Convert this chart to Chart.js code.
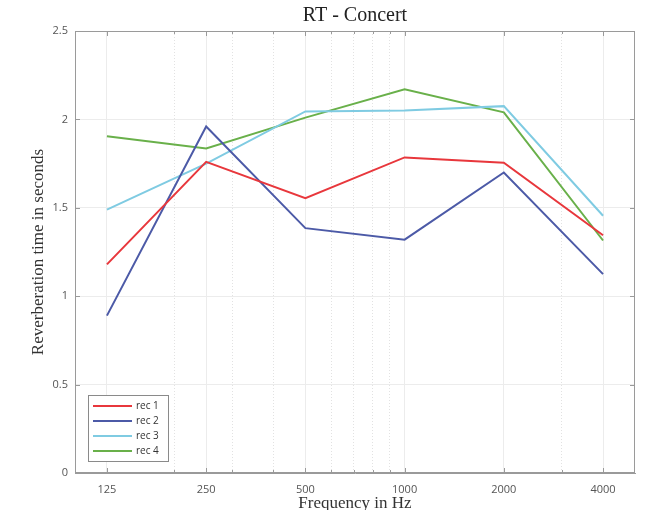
<!DOCTYPE html>
<html>
<head>
<meta charset="utf-8">
<script src="https://cdn.jsdelivr.net/npm/chart.js@4.4.0/dist/chart.umd.min.js"></script>
<style>
html, body { margin: 0; padding: 0; background: #fff; }
</style>
</head>
<body>
<canvas id="rtChart" width="651" height="510"></canvas>
<script>
// --- data ---
const frequencies = [125, 250, 500, 1000, 2000, 4000];
const minorFrequencies = [200, 300, 400, 600, 700, 800, 900, 3000];
const yTicks = [0, 0.5, 1, 1.5, 2, 2.5];
const seriesNames = ['rec 1', 'rec 2', 'rec 3', 'rec 4'];
const rec1 = [1.18, 1.76, 1.555, 1.785, 1.755, 1.345];
const rec2 = [0.89, 1.96, 1.385, 1.32, 1.70, 1.125];
const rec3 = [1.49, 1.75, 2.045, 2.05, 2.075, 1.455];
const rec4 = [1.905, 1.835, 2.01, 2.17, 2.04, 1.315];
const lineColors = ['#e8373c', '#4c5aa7', '#7fcbe2', '#69b04a'];

const serifFont = "'Liberation Serif', 'DejaVu Serif', serif";
const sansFont = "'Open Sans', 'Noto Sans', sans-serif";

const toPoints = vals => vals.map((v, i) => ({ x: frequencies[i], y: v }));

// box, inside ticks and the legend like the MATLAB figure
const framePlugin = {
    id: 'frame',
    afterDraw(chart) {
        const { ctx, chartArea: a } = chart;
        const xs = chart.scales.x;
        const ys = chart.scales.y;
        ctx.save();
        ctx.strokeStyle = '#9a9a9a';
        ctx.lineWidth = 1;
        ctx.strokeRect(a.left + 0.5, a.top + 0.5, a.right - a.left - 1, a.bottom - a.top - 1);

        ctx.beginPath();
        frequencies.forEach(v => {
            const px = Math.round(xs.getPixelForValue(v)) + 0.5;
            ctx.moveTo(px, a.bottom); ctx.lineTo(px, a.bottom - 5);
            ctx.moveTo(px, a.top); ctx.lineTo(px, a.top + 5);
        });
        minorFrequencies.forEach(v => {
            const px = Math.round(xs.getPixelForValue(v)) + 0.5;
            ctx.moveTo(px, a.bottom); ctx.lineTo(px, a.bottom - 3);
            ctx.moveTo(px, a.top); ctx.lineTo(px, a.top + 3);
        });
        yTicks.forEach(v => {
            const py = Math.round(ys.getPixelForValue(v)) + 0.5;
            ctx.moveTo(a.left, py); ctx.lineTo(a.left + 5, py);
            ctx.moveTo(a.right, py); ctx.lineTo(a.right - 5, py);
        });
        ctx.stroke();

        // legend box, lower left
        const bx = a.left + 13, by = a.bottom - 78, bw = 80, bh = 66;
        ctx.fillStyle = '#fff';
        ctx.fillRect(bx, by, bw, bh);
        ctx.strokeStyle = '#8a8a8a';
        ctx.strokeRect(bx + 0.5, by + 0.5, bw, bh);
        ctx.font = '10px ' + sansFont;
        ctx.textBaseline = 'middle';
        chart.data.datasets.forEach((ds, i) => {
            const ry = by + 11 + i * 15;
            ctx.strokeStyle = ds.borderColor;
            ctx.lineWidth = 2;
            ctx.beginPath();
            ctx.moveTo(bx + 5, ry); ctx.lineTo(bx + 44, ry);
            ctx.stroke();
            ctx.fillStyle = '#333';
            ctx.fillText(ds.label, bx + 48, ry);
        });
        ctx.restore();
    }
};

new Chart(document.getElementById('rtChart'), {
    type: 'line',
    data: {
        datasets: [rec1, rec2, rec3, rec4].map((vals, i) => ({
            label: seriesNames[i],
            data: toPoints(vals),
            borderColor: lineColors[i],
            backgroundColor: lineColors[i],
            borderWidth: 2,
            pointRadius: 0,
            tension: 0
        }))
    },
    options: {
        responsive: false,
        animation: false,
        layout: { padding: { left: 0, right: 16, top: 0, bottom: 0 } },
        plugins: {
            legend: { display: false },
            tooltip: { enabled: false },
            title: { display: false }
        },
        scales: {
            x: {
                type: 'logarithmic',
                position: 'bottom',
                min: 100,
                max: 5000,
                afterBuildTicks: s => { s.ticks = frequencies.map(v => ({ value: v })); },
                afterFit: s => { s.height = 37; },
                ticks: {
                    color: '#555',
                    font: { family: sansFont, size: 11 },
                    padding: 10,
                    maxRotation: 0,
                    autoSkip: false,
                    callback: v => String(v)
                },
                grid: { color: '#ececec', drawTicks: false },
                border: { color: '#9a9a9a' },
                title: {
                    display: true,
                    text: 'Frequency in Hz',
                    color: '#333',
                    font: { family: serifFont, size: 17 },
                    padding: { top: 0, bottom: -4 }
                }
            },
            // minor log grid (dotted); its title is the chart title, centred on the plot
            xMinor: {
                type: 'logarithmic',
                position: 'top',
                min: 100,
                max: 5000,
                afterBuildTicks: s => { s.ticks = minorFrequencies.map(v => ({ value: v })); },
                afterFit: s => { s.height = 31; },
                ticks: { display: false },
                grid: { color: '#e2e2e2', drawTicks: false },
                border: { display: false, dash: [1, 2] },
                title: {
                    display: true,
                    text: 'RT - Concert',
                    color: '#222',
                    font: { family: serifFont, size: 20, lineHeight: 1.1 },
                    padding: { top: 5, bottom: 0 }
                }
            },
            y: {
                min: 0,
                max: 2.5,
                afterBuildTicks: s => { s.ticks = yTicks.map(v => ({ value: v })); },
                afterFit: s => { s.width = 75; },
                ticks: {
                    color: '#555',
                    font: { family: sansFont, size: 11 },
                    padding: 7,
                    callback: v => String(v)
                },
                grid: { color: '#ececec', drawTicks: false },
                border: { color: '#9a9a9a' },
                title: {
                    display: true,
                    text: 'Reverberation time in seconds',
                    color: '#333',
                    font: { family: serifFont, size: 17 },
                    padding: { top: 28, bottom: 0 }
                }
            }
        }
    },
    plugins: [framePlugin]
});
</script>
</body>
</html>
